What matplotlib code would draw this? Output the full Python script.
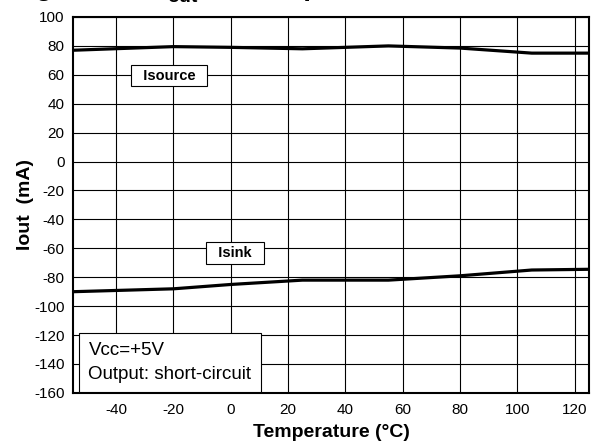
import matplotlib.pyplot as plt

plt.rcParams['font.family'] = ['Liberation Sans', 'DejaVu Sans']
plt.rcParams['axes.unicode_minus'] = False

# temperature points (deg C) and output currents (mA)
temp = [-55, -20, 0, 25, 55, 80, 105, 125]
i_source = [77, 79.5, 79, 78, 80, 78.5, 75, 75]
i_sink = [-90, -88, -85, -82, -82, -79, -75, -74.5]

x_ticks = [-40, -20, 0, 20, 40, 60, 80, 100, 120]
y_ticks = list(range(-160, 101, 20))

fig = plt.figure(figsize=(5.96, 4.47), dpi=100)
ax = fig.add_axes([0.1225, 0.121, 0.866, 0.841])

ax.plot(temp, i_source, color='black', lw=2.3, zorder=3)
ax.plot(temp, i_sink, color='black', lw=2.3, zorder=3)

ax.set_xlim(-55, 125)
ax.set_ylim(-160, 100)
ax.set_xticks(x_ticks)
ax.set_yticks(y_ticks)
ax.grid(True, color='black', lw=0.8)
ax.tick_params(length=0, labelsize=11, pad=6)
ax.tick_params(axis='x', pad=7)
for s in ax.spines.values():
    s.set_linewidth(1.5)

ax.set_xlabel('Temperature (°C)', fontsize=14, fontweight='bold')
ax.set_ylabel('Iout  (mA)', fontsize=14, fontweight='bold')
ax.xaxis.set_label_coords(0.5, -0.083)
ax.yaxis.set_label_coords(-0.076, 0.5)

# curve labels
ax.text(-21.5, 59.5, '  Isource  ', fontsize=10.5, fontweight='bold', ha='center',
        va='center', zorder=4,
        bbox=dict(boxstyle='square,pad=0.25', facecolor='white', edgecolor='black', lw=0.8))
ax.text(1.5, -63.3, '  Isink  ', fontsize=10.5, fontweight='bold', ha='center',
        va='center', zorder=4,
        bbox=dict(boxstyle='square,pad=0.25', facecolor='white', edgecolor='black', lw=0.8))
ax.text(-49.6, -138.8, 'Vcc=+5V\nOutput: short-circuit', fontsize=13.5, ha='left',
        va='center', linespacing=1.5, zorder=4,
        bbox=dict(boxstyle='square,pad=0.5', facecolor='white', edgecolor='black', lw=0.8))

# caption, mostly cut off at the top edge
fig.text(165 / 596, 1 + 5 / 447, 'Figure 10.  I', fontsize=20, fontweight='bold',
         ha='right', va='baseline')
fig.text(167 / 596, 1 - 1.5 / 447, 'out', fontsize=14, fontweight='bold',
         ha='left', va='baseline')
fig.text(200 / 596, 1 + 5 / 447, ' vs. temperature', fontsize=20, fontweight='bold',
         ha='left', va='baseline')

fig.savefig('out.png', dpi=100)
